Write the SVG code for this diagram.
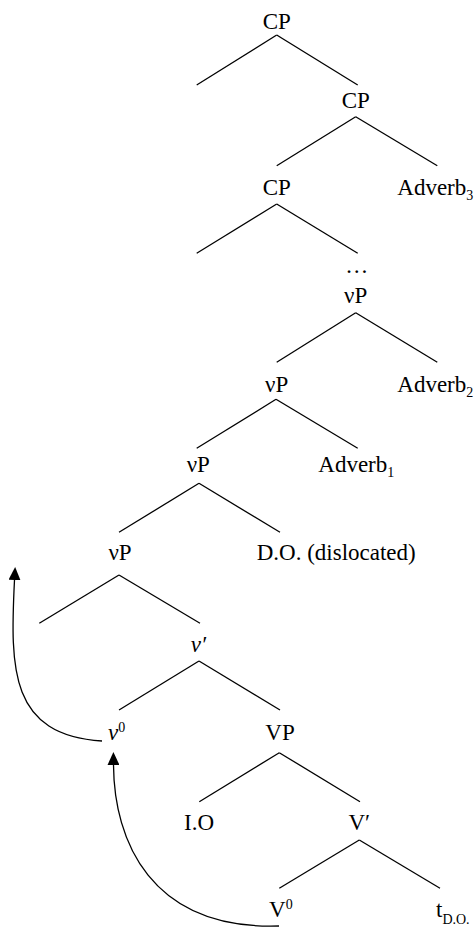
<svg xmlns="http://www.w3.org/2000/svg" width="476" height="931" viewBox="0 0 476 931">
<style>
text{font-family:"Liberation Serif","DejaVu Serif",serif;font-size:23px;fill:#000}
.m{text-anchor:middle}
.sub{font-size:14px}
.e line{stroke:#000;stroke-width:1.3}
.arr{fill:none;stroke:#000;stroke-width:1.3}
</style>
<defs>
<marker id="ah" markerUnits="userSpaceOnUse" markerWidth="13" markerHeight="12" refX="0" refY="6" orient="auto">
<path d="M0,0 L13,6 L0,12 z" fill="#000"/>
</marker>
</defs>
<rect width="476" height="931" fill="#fff"/>
<g id="edges" class="e">
<line x1="276.7" y1="35" x2="196.7" y2="85"/>
<line x1="276.7" y1="35" x2="357.7" y2="85"/>
<line x1="355.7" y1="116.7" x2="276.7" y2="165.7"/>
<line x1="355.7" y1="116.7" x2="437.3" y2="165.7"/>
<line x1="276.7" y1="204" x2="196.7" y2="253.3"/>
<line x1="276.7" y1="204" x2="357.7" y2="253.3"/>
<line x1="355.7" y1="312.7" x2="276.7" y2="362.3"/>
<line x1="355.7" y1="312.7" x2="437.3" y2="362.3"/>
<line x1="276" y1="399.3" x2="196.7" y2="448.3"/>
<line x1="276" y1="399.3" x2="357.7" y2="448.3"/>
<line x1="199" y1="483.3" x2="119" y2="532.3"/>
<line x1="199" y1="483.3" x2="280" y2="532.3"/>
<line x1="119" y1="575" x2="39.3" y2="623.3"/>
<line x1="119" y1="575" x2="200" y2="623.3"/>
<line x1="199" y1="661" x2="119" y2="710"/>
<line x1="199" y1="661" x2="280" y2="710"/>
<line x1="279.3" y1="752.7" x2="199.3" y2="801.7"/>
<line x1="279.3" y1="752.7" x2="360" y2="801.7"/>
<line x1="359.3" y1="840" x2="279.3" y2="888.3"/>
<line x1="359.3" y1="840" x2="440" y2="888.3"/>
<path class="arr" d="M102,741 C10,735 10,670 14.5,580" marker-end="url(#ah)"/>
<path class="arr" d="M279,926 C150,930 114,840 113.5,765" marker-end="url(#ah)"/>
</g>
<g id="n-cp1"><text class="m" x="276.7" y="29">CP</text></g>
<g id="n-cp2"><text class="m" x="355.7" y="108">CP</text></g>
<g id="n-cp3"><text class="m" x="276.7" y="195">CP</text></g>
<g id="n-adv3"><text x="397.3" y="195">Adverb<tspan class="sub" dy="5">3</tspan></text></g>
<g id="n-dots"><text class="m" x="356.7" y="273">…</text></g>
<g id="n-vp1"><text class="m" x="355.7" y="303.3">νP</text></g>
<g id="n-vp2"><text class="m" x="276.7" y="391.7">νP</text></g>
<g id="n-adv2"><text x="397.3" y="391.7">Adverb<tspan class="sub" dy="5">2</tspan></text></g>
<g id="n-vp3"><text class="m" x="198.3" y="471.7">νP</text></g>
<g id="n-adv1"><text x="318.3" y="471.7">Adverb<tspan class="sub" dy="5">1</tspan></text></g>
<g id="n-vp4"><text class="m" x="120" y="560">νP</text></g>
<g id="n-do"><text x="256.7" y="560">D.O. (dislocated)</text></g>
<g id="n-vbar"><text class="m" x="198.3" y="651.7" font-style="italic">ν′</text></g>
<g id="n-v0"><text x="108" y="740"><tspan font-style="italic">ν</tspan><tspan class="sub" dy="-8">0</tspan></text></g>
<g id="n-VP"><text class="m" x="280" y="740">VP</text></g>
<g id="n-io"><text class="m" x="199" y="830">I.O</text></g>
<g id="n-Vbar"><text class="m" x="359.3" y="830">V′</text></g>
<g id="n-V0"><text x="269" y="916.7">V<tspan class="sub" dy="-8">0</tspan></text></g>
<g id="n-t"><text x="436" y="916.7">t<tspan class="sub" dy="7">D.O.</tspan></text></g>
</svg>
